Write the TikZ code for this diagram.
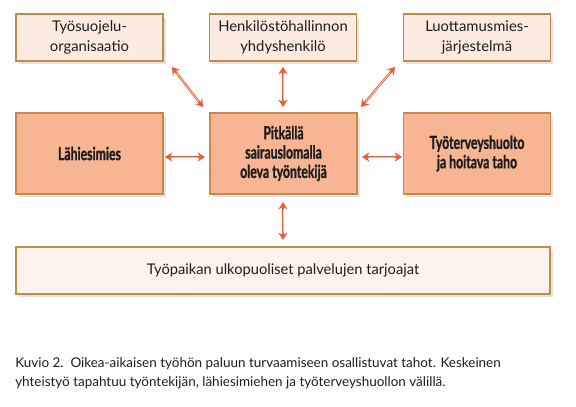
\documentclass[tikz,border=0pt]{standalone}
\usepackage{fontspec}
\setmainfont{Lato}
\newfontfamily\condfont[FakeStretch=0.68,BoldFeatures={FakeBold=1.2}]{Lato}
\usetikzlibrary{shadows,arrows.meta}
\definecolor{boxborder}{HTML}{C38B45}
\definecolor{lightfill}{HTML}{FDEAE0}
\definecolor{strongfill}{HTML}{F8B594}
\definecolor{palefill}{HTML}{FEF3EC}
\definecolor{arrowred}{HTML}{EE5B3B}
\definecolor{arrowlight}{HTML}{F9C4AE}
\definecolor{txt}{HTML}{1E1E1E}
\tikzset{
  basebox/.style={draw=boxborder, line width=1.2pt, inner sep=0pt, align=center, text=txt,
    drop shadow={shadow xshift=2pt, shadow yshift=-2.5pt, opacity=0.22, fill=gray}},
  topbox/.style={basebox, fill=lightfill, minimum width=110pt, minimum height=35pt,
    font=\fontsize{11.1}{15}\selectfont},
  midbox/.style={basebox, fill=strongfill, minimum width=110pt, minimum height=60.5pt,
    font=\condfont\bfseries\fontsize{13.5}{14.5}\selectfont},
  botbox/.style={basebox, fill=palefill, minimum width=400.5pt, minimum height=35pt,
    font=\fontsize{11}{15}\selectfont},
  link/.style={draw=arrowred, line width=1.7pt, {Stealth[length=5.5pt,width=7pt]}-{Stealth[length=5.5pt,width=7pt]}},
  linkcore/.style={draw=arrowlight, line width=0.6pt, shorten <=5.5pt, shorten >=5.5pt},
  caption/.style={anchor=north west, inner sep=0pt, align=left, text=txt,
    font=\fontsize{10.1}{14.2}\selectfont}
}
\begin{document}
\begin{tikzpicture}[x=0.75pt,y=-0.75pt]
\useasboundingbox (0,0) rectangle (576,407);
\node[topbox] (tl) at (89.5,37.5) {Työsuojelu-\\organisaatio};
\node[topbox] (tm) at (283,37.5) {Henkilöstöhallinnon\\yhdyshenkilö};
\node[topbox] (tr) at (477,37.5) {Luottamusmies-\\järjestelmä};
\node[midbox] (ml) at (89.5,153.5) {Lähiesimies};
\node[midbox] (mm) at (283.5,153.5) {Pitkällä\\sairauslomalla\\oleva työntekijä};
\node[midbox] (mr) at (477,153.5) {Työterveyshuolto\\ja hoitava taho};
\node[botbox] (bt) at (283,270.5) {Työpaikan ulkopuoliset palvelujen tarjoajat};
\coordinate (a1s) at (172,67); \coordinate (a1e) at (203,107);
\coordinate (a2s) at (283,67); \coordinate (a2e) at (283,107);
\coordinate (a3s) at (395,67); \coordinate (a3e) at (361,107);
\coordinate (a4s) at (165,157); \coordinate (a4e) at (205,157);
\coordinate (a5s) at (362,157); \coordinate (a5e) at (402,157);
\coordinate (a6s) at (283,202); \coordinate (a6e) at (283,240);
\foreach \s/\e in {a1s/a1e,a2s/a2e,a3s/a3e,a4s/a4e,a5s/a5e,a6s/a6e}{
  \draw[link] (\s) -- (\e);
  \draw[linkcore] (\s) -- (\e);
}
\node[caption] (cap) at (15,357.5) {Kuvio 2.\ \ Oikea-aikaisen työhön paluun turvaamiseen osallistuvat tahot. Keskeinen\\yhteistyö tapahtuu työntekijän, lähiesimiehen ja työterveyshuollon välillä.};
\end{tikzpicture}
\end{document}
